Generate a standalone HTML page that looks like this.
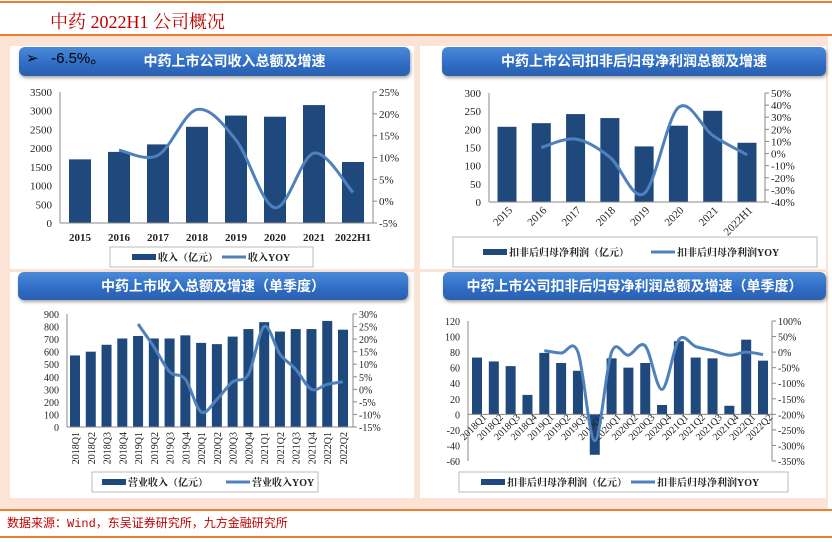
<!DOCTYPE html>
<html><head><meta charset="utf-8">
<style>
html,body{margin:0;padding:0;}
body{width:832px;height:542px;position:relative;overflow:hidden;background:#fff;font-family:"Liberation Serif","Noto Serif CJK SC",serif;}
.abs{position:absolute;}
.panel{position:absolute;background:#fff;}
.tbar{position:absolute;border-radius:6px;background:linear-gradient(180deg,#4a8ad8 0%,#2f6cc4 60%,#2a5fae 100%);box-shadow:1px 2px 3px rgba(0,0,0,0.35);color:#fff;font-family:"Liberation Sans","Noto Sans CJK SC",sans-serif;font-weight:bold;font-size:14px;text-align:center;line-height:29px;}
</style></head>
<body>
<div class="abs" style="left:0;top:1px;width:832px;height:2px;background:#ed7d31"></div>
<div class="abs" style="left:50px;top:8px;font-size:18px;color:#c00000;font-family:'Liberation Serif','Noto Serif CJK SC',serif;">中药 2022H1 公司概况</div>
<div class="abs" style="left:0;top:34px;width:832px;height:2px;background:#ed7d31"></div>
<div class="abs" style="left:0;top:36px;width:828px;height:473px;background:#fbe3d6"></div>
<div class="panel" style="left:10px;top:46px;width:404px;height:223px"></div>
<div class="panel" style="left:420px;top:46px;width:406px;height:223px"></div>
<div class="panel" style="left:10px;top:272px;width:404px;height:226px"></div>
<div class="panel" style="left:420px;top:272px;width:406px;height:226px"></div>
<div class="tbar" style="left:19px;top:47px;width:391px;height:29px;padding-left:40px;box-sizing:border-box">中药上市公司收入总额及增速</div>
<div class="abs" style="left:26px;top:47px;font-family:'Liberation Sans',sans-serif;font-size:15px;color:#000">➢ &nbsp;&nbsp;-6.5%。</div>
<div class="tbar" style="left:442px;top:47px;width:384px;height:29px">中药上市公司扣非后归母净利润总额及增速</div>
<div class="tbar" style="left:18px;top:272px;width:390px;height:28px">中药上市收入总额及增速（单季度）</div>
<div class="tbar" style="left:443px;top:272px;width:383px;height:28px">中药上市公司扣非后归母净利润总额及增速（单季度）</div>
<div class="abs" style="left:0;top:509px;width:832px;height:2px;background:#ed7d31"></div>
<div class="abs" style="left:7px;top:514px;font-size:12px;color:#c00000;font-family:'Liberation Mono','Noto Sans CJK SC',monospace;">数据来源：Wind，东吴证券研究所，九方金融研究所</div>
<div class="abs" style="left:0;top:536px;width:832px;height:2px;background:#ed7d31"></div>
<svg id="charts" class="abs" style="left:0;top:0" width="832" height="542" xmlns="http://www.w3.org/2000/svg"></svg>
<script>
// Chart 1: annual revenue
const c1Cats = ["2015","2016","2017","2018","2019","2020","2021","2022H1"];
const c1Bars = [1700,1900,2100,2570,2870,2840,3150,1630];
const c1Yoy = [null,11.7,10.5,21,14,-1.5,11,2];
const c1LeftTicks = [0,500,1000,1500,2000,2500,3000,3500];
const c1RightTicks = [-5,0,5,10,15,20,25];
// Chart 2: annual profit
const c2Cats = ["2015","2016","2017","2018","2019","2020","2021","2022H1"];
const c2Bars = [207,217,242,231,153,210,251,163];
const c2Yoy = [null,5,12,-3,-33,38,15,-1];
const c2LeftTicks = [0,50,100,150,200,250,300];
const c2RightTicks = [-40,-30,-20,-10,0,10,20,30,40,50];
// Chart 3: quarterly revenue
const c3Cats = ["2018Q1","2018Q2","2018Q3","2018Q4","2019Q1","2019Q2","2019Q3","2019Q4","2020Q1","2020Q2","2020Q3","2020Q4","2021Q1","2021Q2","2021Q3","2021Q4","2022Q1","2022Q2"];
const c3Bars = [570,600,655,705,725,705,705,730,670,660,720,780,835,760,780,780,845,775];
const c3Yoy = [null,null,null,null,26,17,7,4,-9,-4,3,6,25,14,8,0,2,3];
const c3LeftTicks = [0,100,200,300,400,500,600,700,800,900];
const c3RightTicks = [-15,-10,-5,0,5,10,15,20,25,30];
// Chart 4: quarterly profit
const c4Cats = ["2018Q1","2018Q2","2018Q3","2018Q4","2019Q1","2019Q2","2019Q3","2019Q4","2020Q1","2020Q2","2020Q3","2020Q4","2021Q1","2021Q2","2021Q3","2021Q4","2022Q1","2022Q2"];
const c4Bars = [73,68,62,25,79,66,56,-52,72,60,66,12,94,73,72,11,96,69];
const c4Yoy = [null,null,null,null,5,-3,0,-285,0,-10,20,-120,40,18,5,-10,0,-8];
const c4LeftTicks = [-60,-40,-20,0,20,40,60,80,100,120];
const c4RightTicks = [-350,-300,-250,-200,-150,-100,-50,0,50,100];

const NS = "http://www.w3.org/2000/svg";
const svg = document.getElementById("charts");
function mk(tag, attrs, parent){const e=document.createElementNS(NS,tag);for(const k in attrs)e.setAttribute(k,attrs[k]);(parent||svg).appendChild(e);return e;}
function smooth(pts){
  if(pts.length<2)return "";
  let d="M"+pts[0][0]+","+pts[0][1];
  for(let i=0;i<pts.length-1;i++){
    const p0=pts[i-1]||pts[i],p1=pts[i],p2=pts[i+1],p3=pts[i+2]||pts[i+1];
    const c1x=p1[0]+(p2[0]-p0[0])/6,c1y=p1[1]+(p2[1]-p0[1])/6;
    const c2x=p2[0]-(p3[0]-p1[0])/6,c2y=p2[1]-(p3[1]-p1[1])/6;
    d+=" C"+c1x+","+c1y+" "+c2x+","+c2y+" "+p2[0]+","+p2[1];
  }
  return d;
}
function draw(o){
  const g=mk("g",{});
  
  
  const lmin=o.lt[0],lmax=o.lt[o.lt.length-1],rmin=o.rt[0],rmax=o.rt[o.rt.length-1];
  const yL=v=>o.y1-(v-lmin)/(lmax-lmin)*(o.y1-o.y0);
  const yR=v=>o.y1-(v-rmin)/(rmax-rmin)*(o.y1-o.y0);
  const n=o.cats.length;
  const xc=i=>o.xf+i*(o.xl-o.xf)/(n-1);
  o.bars.forEach((v,i)=>{
    const y0=yL(0),y=yL(v);
    const r=mk("rect",{x:xc(i)-o.bw/2,y:Math.min(y,y0),width:o.bw,height:Math.abs(y0-y),fill:"#1f497d"},g);
    
    
  });
  const ax=mk("line",{x1:o.x0,y1:o.y0,x2:o.x0,y2:o.y1,stroke:"#888","stroke-width":1},g);
  
  
  const ar=mk("line",{x1:o.x1,y1:o.y0,x2:o.x1,y2:o.y1,stroke:"#888","stroke-width":1},g);
  
  
  const xa=mk("line",{x1:o.x0,y1:yL(0),x2:o.x1,y2:yL(0),stroke:"#888","stroke-width":1},g);
  
  
  o.lt.forEach(v=>{
    const t=mk("text",{x:o.x0-8,y:yL(v)+4,"text-anchor":"end","font-size":o.fs,"font-family":"Liberation Serif,serif",fill:"#222"},g);
    t.textContent=v;
    
    
  });
  o.rt.forEach(v=>{
    mk("line",{x1:o.x1,y1:yR(v),x2:o.x1+4,y2:yR(v),stroke:"#888"},g);
    const t=mk("text",{x:o.x1+6,y:yR(v)+4,"font-size":o.fs,"font-family":"Liberation Serif,serif",fill:"#222"},g);
    t.textContent=v+"%";
    
    
  });
  o.cats.forEach((c,i)=>{
    let t;
    if(o.rot===0){t=mk("text",{x:xc(i),y:o.ly,"text-anchor":"middle","font-size":o.fs,"font-weight":"bold","font-family":"Liberation Serif,serif",fill:"#222"},g);}
    else{const x=xc(i)+o.lx,y=o.ly;t=mk("text",{x:x,y:y,"text-anchor":"end","font-size":o.fs,"font-family":"Liberation Serif,serif",fill:"#222",transform:"rotate("+o.rot+" "+x+" "+y+")"},g);}
    t.textContent=c;
    
    
  });
  const pts=[];o.yoy.forEach((v,i)=>{if(v!==null)pts.push([xc(i),yR(v)]);});
  const p=mk("path",{d:smooth(pts),fill:"none",stroke:"#4f81bd","stroke-width":3,"stroke-linejoin":"round"},g);
  
  
  const L=o.leg;
  const lb=mk("rect",{x:L.x,y:L.y,width:L.w,height:L.h,fill:"#fff",stroke:"#bbb"},g);
  
  
  const cy=L.y+L.h/2;
  const sw=mk("rect",{x:L.x+L.p1,y:cy-3,width:24,height:6,fill:"#1f497d"},g);
  
  
  const t1=mk("text",{x:L.x+L.p1+26,y:cy+4,"font-size":10,"font-weight":"bold","font-family":"Liberation Serif,Noto Serif CJK SC,serif",fill:"#222"},g);
  t1.textContent=L.t1;
  
  
  const ln=mk("line",{x1:L.x+L.p2,y1:cy,x2:L.x+L.p2+24,y2:cy,stroke:"#4f81bd","stroke-width":3},g);
  
  
  const t2=mk("text",{x:L.x+L.p2+26,y:cy+4,"font-size":10,"font-weight":"bold","font-family":"Liberation Serif,Noto Serif CJK SC,serif",fill:"#222"},g);
  t2.textContent=L.t2;
  
  
}
draw({name:"chart-revenue-annual",cats:c1Cats,bars:c1Bars,yoy:c1Yoy,lt:c1LeftTicks,rt:c1RightTicks,
  x0:60,x1:373,y0:92,y1:223,xf:80,xl:353,bw:22,fs:11,rot:0,ly:241,
  leg:{x:110,y:247,w:203,h:20,p1:22,p2:112,t1:"收入（亿元）",t2:"收入YOY"}});
draw({name:"chart-profit-annual",cats:c2Cats,bars:c2Bars,yoy:c2Yoy,lt:c2LeftTicks,rt:c2RightTicks,
  x0:489,x1:765,y0:93,y1:202,xf:507,xl:747,bw:19,fs:11,rot:-45,ly:211,lx:6,
  leg:{x:453,y:237,w:364,h:30,p1:30,p2:198,t1:"扣非后归母净利润（亿元）",t2:"扣非后归母净利润YOY"}});
draw({name:"chart-revenue-quarterly",cats:c3Cats,bars:c3Bars,yoy:c3Yoy,lt:c3LeftTicks,rt:c3RightTicks,
  x0:67,x1:353,y0:314,y1:427,xf:75,xl:343,bw:10,fs:10,rot:-90,ly:432,lx:4,
  leg:{x:92,y:472,w:226,h:20,p1:10,p2:134,t1:"营业收入（亿元）",t2:"营业收入YOY"}});
draw({name:"chart-profit-quarterly",cats:c4Cats,bars:c4Bars,yoy:c4Yoy,lt:c4LeftTicks,rt:c4RightTicks,
  x0:468,x1:772,y0:321,y1:461,xf:477,xl:763,bw:10,fs:10,rot:-45,ly:418,lx:10,
  leg:{x:459,y:472,w:329,h:20,p1:22,p2:172,t1:"扣非后归母净利润（亿元）",t2:"扣非后归母净利润YOY"}});
</script>
</body></html>
